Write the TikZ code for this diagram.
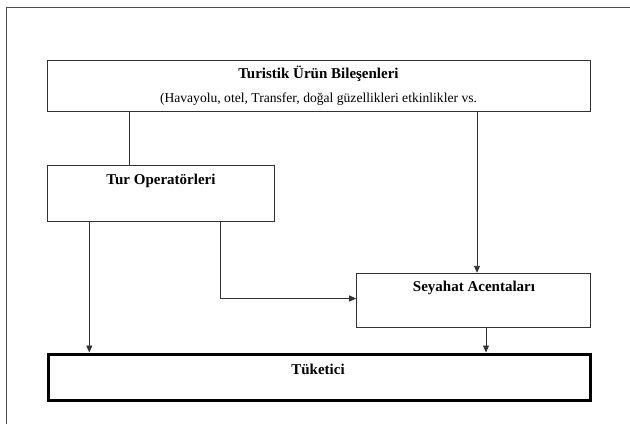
\documentclass[tikz,border=0pt]{standalone}
\usepackage{fontspec}
\setmainfont{Liberation Serif}
\usetikzlibrary{arrows.meta}
\begin{document}
\begin{tikzpicture}[x=1pt,y=-1pt,
  boxst/.style={draw=black!80, line width=1pt, inner sep=0pt, rectangle},
  thickbox/.style={draw=black, line width=3pt, inner sep=0pt, rectangle},
  ttl/.style={font=\fontsize{15}{17}\selectfont\bfseries, inner sep=0pt},
  sub/.style={font=\fontsize{13.6}{16}\selectfont, inner sep=0pt},
  conn/.style={draw=black!80, line width=0.9pt},
  arr/.style={conn, -{Triangle[length=7pt,width=6pt]}}]
\useasboundingbox (0,0) rectangle (630,424);
% outer frame (partial)
\draw[black!70, line width=1pt] (6.7,424) -- (6.7,7.5) -- (630,7.5);
% boxes
\node[boxst, minimum width=543pt, minimum height=51pt] (top) at (318.5,85.5) {};
\node[boxst, minimum width=226.5pt, minimum height=56pt] (tur) at (160.75,193.5) {};
\node[boxst, minimum width=233.3pt, minimum height=54pt] (sey) at (473.35,300.3) {};
\node[thickbox, minimum width=542pt, minimum height=46.8pt] (tuk) at (319,377.4) {};
% texts
\node[ttl] (toptitle) at (318.5,74) {Turistik Ürün Bileşenleri};
\node[sub] (topsub) at (318.5,99.5) {(Havayolu, otel, Transfer, doğal güzellikleri etkinlikler vs.};
\node[ttl] (turtxt) at (161,180.5) {Tur Operatörleri};
\node[ttl] (seytxt) at (474,287.5) {Seyahat Acentaları};
\node[ttl] (tuktxt) at (318,369.5) {Tüketici};
% connectors
\coordinate (c1) at (129,0);
\coordinate (c2) at (477,0);
\coordinate (c3) at (220,298.5);
\coordinate (c4) at (89.3,0);
\coordinate (c5) at (486,0);
\draw[conn] (top.south -| c1) -- (tur.north -| c1);
\draw[arr] (top.south -| c2) -- (sey.north -| c2);
\draw[arr] (tur.south -| c3) |- (sey.west |- c3);
\draw[arr] (tur.south -| c4) -- (tuk.north -| c4);
\draw[arr] (sey.south -| c5) -- (tuk.north -| c5);
\end{tikzpicture}
\end{document}
